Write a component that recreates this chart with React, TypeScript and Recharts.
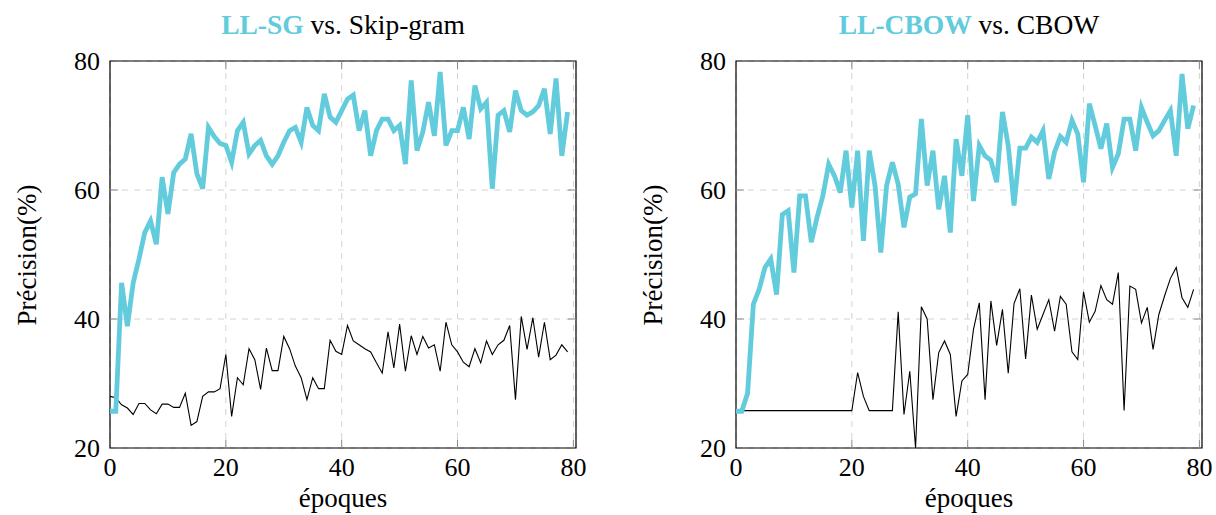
import { LineChart, Line, XAxis, YAxis, CartesianGrid, ReferenceArea, ReferenceLine } from "recharts"

// epochs are the index of each value (0..79)
const epochTicks = [0, 20, 40, 60, 80]
const precisionTicks = [20, 40, 60, 80]
const innerXTicks = [20, 40, 60, 80]
const innerYTicks = [40, 60]

const llSgValues = [
  25.7, 25.7, 45.6, 38.9, 45.6, 49.3, 53.4, 55.2, 51.6, 62.0,
  56.3, 62.7, 64.0, 64.8, 68.7, 62.5, 60.2, 69.7, 68.3, 67.2,
  66.9, 64.3, 69.2, 70.5, 65.6, 66.9, 67.7, 65.3, 64.0, 65.3,
  67.4, 69.2, 69.7, 67.4, 72.8, 70.0, 69.2, 74.9, 71.3, 70.5,
  72.3, 74.1, 74.7, 69.2, 72.3, 65.3, 69.2, 71.0, 71.0, 69.2,
  70.0, 64.0, 77.0, 66.1, 69.0, 73.6, 68.4, 78.3, 66.9, 69.2,
  69.2, 72.8, 67.9, 76.2, 72.6, 73.6, 60.2, 71.6, 72.3, 69.0,
  75.4, 72.3, 71.6, 72.1, 73.1, 75.7, 68.7, 77.3, 65.3, 72.1,
]

const skipGramValues = [
  28.0, 27.8, 26.7, 26.2, 25.2, 26.9, 26.9, 25.9, 25.3, 26.8,
  26.8, 26.3, 26.3, 28.5, 23.5, 24.1, 28.0, 28.7, 28.7, 29.2,
  34.5, 24.9, 30.9, 29.8, 35.4, 33.7, 29.1, 35.5, 32.0, 32.0,
  37.3, 35.4, 32.7, 30.9, 27.5, 30.9, 29.2, 29.2, 36.7, 35.0,
  34.5, 39.0, 36.6, 36.0, 35.4, 34.9, 33.2, 31.6, 38.0, 32.4,
  39.2, 31.9, 37.4, 34.5, 37.3, 35.5, 36.0, 31.9, 39.5, 36.0,
  34.9, 33.3, 32.6, 35.4, 33.2, 36.6, 34.5, 36.0, 36.7, 39.0,
  27.5, 40.4, 35.3, 40.2, 34.1, 39.5, 33.7, 34.4, 36.0, 34.9,
]

const llCbowValues = [
  25.7, 25.7, 28.5, 42.3, 44.6, 48.0, 49.3, 43.8, 56.2, 56.8,
  47.2, 59.1, 59.1, 51.9, 55.8, 59.1, 64.0, 62.2, 59.6, 66.1,
  57.3, 66.1, 52.1, 66.1, 60.7, 50.3, 60.7, 64.3, 60.9, 54.2,
  58.9, 59.4, 71.0, 60.7, 66.1, 57.0, 62.2, 53.4, 67.9, 62.2,
  71.6, 58.3, 66.9, 65.3, 64.6, 61.2, 72.1, 66.9, 57.6, 66.5,
  66.5, 68.2, 67.4, 69.2, 61.7, 65.9, 68.3, 67.4, 70.8, 68.7,
  61.2, 73.4, 70.0, 66.4, 70.3, 63.5, 65.6, 71.0, 71.0, 66.1,
  72.8, 70.5, 68.4, 69.2, 70.8, 72.3, 65.3, 78.0, 69.5, 73.1,
]

const cbowValues = [
  25.8, 25.8, 25.8, 25.8, 25.8, 25.8, 25.8, 25.8, 25.8, 25.8,
  25.8, 25.8, 25.8, 25.8, 25.8, 25.8, 25.8, 25.8, 25.8, 25.8,
  25.8, 31.7, 28.0, 25.8, 25.8, 25.8, 25.8, 25.8, 41.1, 25.2,
  31.9, 20.0, 41.9, 40.0, 27.5, 34.8, 36.6, 34.5, 24.9, 30.4,
  31.4, 38.4, 42.5, 27.5, 42.8, 35.9, 41.5, 31.6, 42.4, 44.7,
  33.8, 43.7, 38.4, 40.7, 43.0, 38.1, 43.5, 42.3, 34.9, 33.7,
  44.2, 39.5, 41.2, 45.2, 43.0, 42.3, 47.2, 25.8, 45.1, 44.6,
  39.4, 41.8, 35.3, 40.7, 43.6, 46.3, 48.0, 43.3, 41.8, 44.6,
]

const CYAN = "#62cbdc"
const FONT = '"Liberation Serif", "DejaVu Serif", serif'
const X_MAX = 80.45
const CHART_W = 590
const CHART_H = 515

function Panel({ left, strong, rest, ll, base }: { left: number; strong: string; rest: string; ll: number[]; base: number[] }) {
  const rows = ll.map((v, i) => ({ epoch: i, ll: v, base: base[i] }))
  const tickStyle = { fontSize: 26, fill: "#000", fontFamily: FONT }

  return (
    <div style={{ position: "absolute", left, top: 0, width: CHART_W, height: CHART_H }}>
      <div
        style={{
          position: "absolute", left: 110, width: 466, top: 10,
          textAlign: "center", fontSize: 27.5, lineHeight: "30px", whiteSpace: "nowrap",
        }}
      >
        <span style={{ color: CYAN, fontWeight: "bold" }}>{strong}</span> vs. {rest}
      </div>
      <div
        style={{
          position: "absolute", left: 27, top: 255, fontSize: 27, lineHeight: "30px",
          whiteSpace: "nowrap", transform: "translate(-50%, -50%) rotate(-90deg)",
        }}
      >
        Précision(%)
      </div>
      <div
        style={{
          position: "absolute", left: 110, width: 466, top: 483,
          textAlign: "center", fontSize: 27, lineHeight: "30px", whiteSpace: "nowrap",
        }}
      >
        époques
      </div>
      <LineChart width={CHART_W} height={CHART_H} data={rows} margin={{ top: 61, right: CHART_W - 576, bottom: 0, left: 50 }}>
        <CartesianGrid stroke="#d2d2d2" strokeDasharray="6 6" />
        <XAxis
          dataKey="epoch"
          type="number"
          domain={[0, X_MAX]}
          ticks={epochTicks}
          allowDataOverflow
          height={67}
          axisLine={false}
          tickLine={false}
          tickSize={0}
          tickMargin={10}
          tick={tickStyle}
        />
        <YAxis
          domain={[20, 80]}
          ticks={precisionTicks}
          allowDataOverflow
          width={60}
          axisLine={false}
          tickLine={false}
          tickSize={0}
          tickMargin={10}
          tick={tickStyle}
        />
        {innerXTicks.map((t) => (
          <ReferenceLine key={`xb${t}`} segment={[{ x: t, y: 20 }, { x: t, y: 21.3 }]} stroke="#8c8c8c" />
        ))}
        {innerXTicks.map((t) => (
          <ReferenceLine key={`xt${t}`} segment={[{ x: t, y: 78.7 }, { x: t, y: 80 }]} stroke="#8c8c8c" />
        ))}
        {innerYTicks.map((t) => (
          <ReferenceLine key={`yl${t}`} segment={[{ x: 0, y: t }, { x: 1.4, y: t }]} stroke="#8c8c8c" />
        ))}
        {innerYTicks.map((t) => (
          <ReferenceLine key={`yr${t}`} segment={[{ x: X_MAX - 1.4, y: t }, { x: X_MAX, y: t }]} stroke="#8c8c8c" />
        ))}
        <ReferenceArea x1={0} x2={X_MAX} y1={20} y2={80} fill="none" stroke="#000" strokeWidth={1.2} ifOverflow="visible" />
        <Line dataKey="base" stroke="#000" strokeWidth={1.1} dot={false} isAnimationActive={false} />
        <Line dataKey="ll" stroke={CYAN} strokeWidth={4.8} dot={false} isAnimationActive={false} />
      </LineChart>
    </div>
  )
}

export default function App() {
  return (
    <div
      style={{
        position: "absolute", left: 0, top: 0, width: 1216, height: 515,
        overflow: "hidden", background: "#fff", fontFamily: FONT, color: "#000",
      }}
    >
      <Panel left={0} strong="LL-SG" rest="Skip-gram" ll={llSgValues} base={skipGramValues} />
      <Panel left={626} strong="LL-CBOW" rest="CBOW" ll={llCbowValues} base={cbowValues} />
    </div>
  )
}
